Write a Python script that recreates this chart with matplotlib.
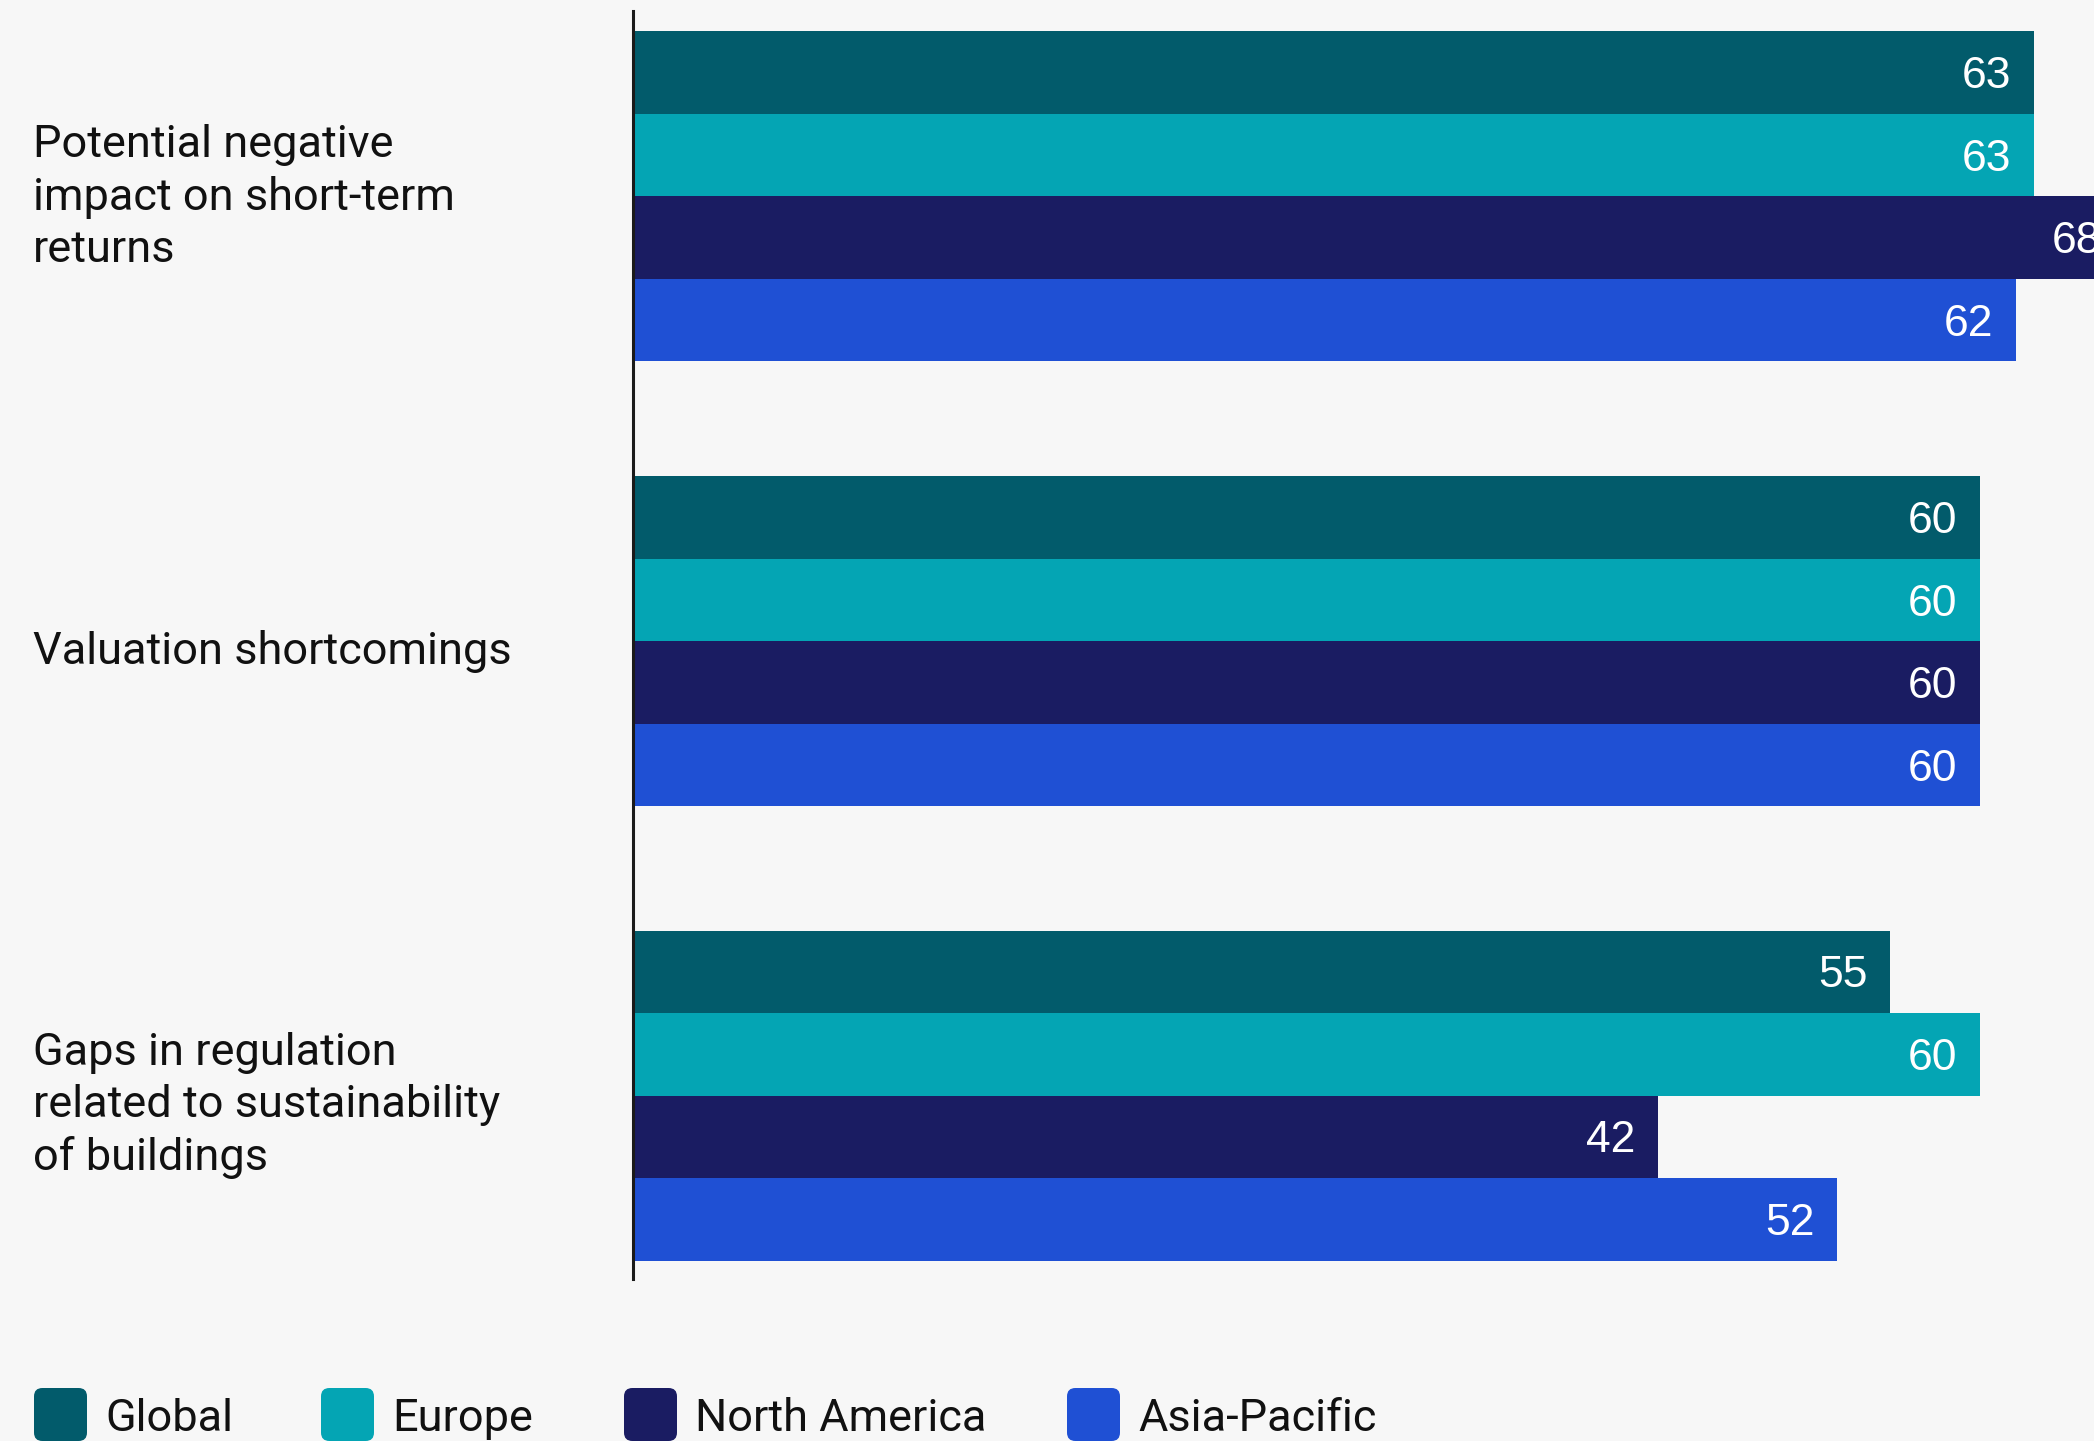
import numpy as np
import matplotlib.pyplot as plt
from matplotlib.patches import FancyBboxPatch
from matplotlib import transforms

# survey shares (%) by region
categories = ['Potential negative\nimpact on short-term\nreturns',
              'Valuation shortcomings',
              'Gaps in regulation\nrelated to sustainability\nof buildings']
regions = ['Global', 'Europe', 'North America', 'Asia-Pacific']
global_vals = [63, 60, 55]
europe_vals = [63, 60, 60]
north_america_vals = [68, 60, 42]
asia_pacific_vals = [62, 60, 52]

series = [global_vals, europe_vals, north_america_vals, asia_pacific_vals]
colors = ['#025b6b', '#04a5b4', '#1a1c62', '#1f50d4']
bg = '#f7f7f7'

W, H = 2094, 1441
fig = plt.figure(figsize=(W / 100, H / 100), dpi=100, facecolor=bg)
ax = fig.add_axes([633 / W, 162 / H, (W - 633) / W, 1268 / H])
ax.set_facecolor(bg)

# x scale: 17.9 px per point, bars grow from the axis line
x0 = -15.25
ax.set_xlim(x0, x0 + (W - 633) / 17.9)
# y in pixel-sized units, top to bottom
ax.set_ylim(1279, 11)

bar_h = 82.5
group_y = np.array([196.5, 641.5, 1095.5])
for j, (vals, col) in enumerate(zip(series, colors)):
    y = group_y + (j - 1.5) * bar_h
    vals = np.array(vals)
    ax.barh(y, vals - x0, left=x0, height=bar_h, color=col, linewidth=0)
    for yy, v in zip(y, vals):
        ax.text(v - 1.25, yy + 4, str(v), ha='right', va='center', color='white',
                fontsize=32, family='Liberation Sans', clip_on=False)

for s in ['top', 'right', 'bottom']:
    ax.spines[s].set_visible(False)
ax.spines['left'].set_linewidth(2.2)
ax.spines['left'].set_color('#1a1a1a')
ax.set_xticks([])
ax.set_yticks([])

# category labels on the left
tr = transforms.blended_transform_factory(fig.transFigure, ax.transData)
label_shift = [1, 10, 10]
for gy, dy, lab in zip(group_y, label_shift, categories):
    ax.text(33 / W, gy + dy, lab, transform=tr, ha='left', va='center',
            fontsize=32.5, family='Roboto', color='#111111', linespacing=1.3)

# legend along the bottom
sq_x = [34, 321, 624, 1067]
for name, col, sx in zip(regions, colors, sq_x):
    box = FancyBboxPatch((sx / W, 0), 53 / W, 53 / H,
                         boxstyle='round,pad=0,rounding_size=0.004',
                         transform=fig.transFigure, facecolor=col,
                         edgecolor='none', mutation_aspect=W / H)
    fig.patches.append(box)
    fig.text((sx + 71) / W, (H - 1431) / H, name, ha='left', va='baseline',
             fontsize=32.5, family='Roboto', color='#111111')

fig.savefig('out.png', dpi=100, facecolor=bg)
